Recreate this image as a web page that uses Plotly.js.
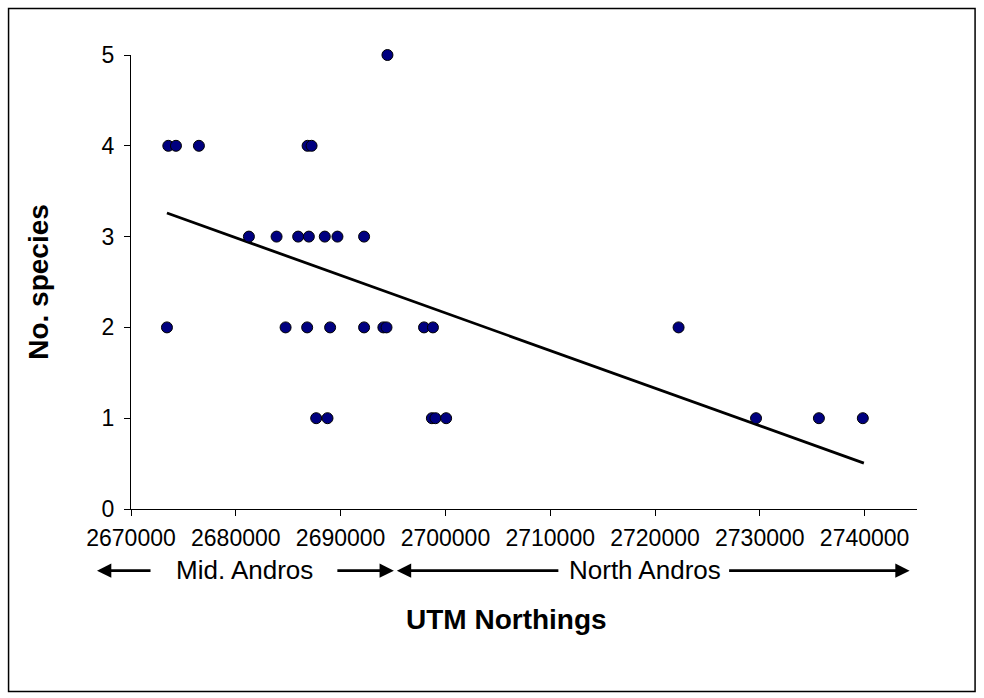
<!DOCTYPE html>
<html>
<head>
<meta charset="utf-8">
<script src="https://cdn.plot.ly/plotly-3.0.1.min.js"></script>
<style>html,body{margin:0;padding:0;background:#fff;}#chart{width:984px;height:698px;}</style>
</head>
<body>
<div id="chart"></div>
<script>
// UTM northings (m) and number of species
const northings = [
  2694470,
  2673560, 2674290, 2676480, 2686850, 2687230,
  2681250, 2683890, 2685950, 2686970, 2688490, 2689700, 2692240,
  2673430, 2684750, 2686810, 2689000, 2692240, 2694080, 2694380, 2697960, 2698810, 2722250,
  2687670, 2688750, 2698710, 2699050, 2700070, 2729640, 2735640, 2739830
];
const species = [
  5,
  4, 4, 4, 4, 4,
  3, 3, 3, 3, 3, 3, 3,
  2, 2, 2, 2, 2, 2, 2, 2, 2, 2,
  1, 1, 1, 1, 1, 1, 1, 1
];
// linear trend line end points
const trendX = [2673430, 2739930];
const trendY = [3.26, 0.505];
// axis tick values
const xTicks = [2670000, 2680000, 2690000, 2700000, 2710000, 2720000, 2730000, 2740000];
const yTicks = [0, 1, 2, 3, 4, 5];
// text
const regionLabels = ["Mid. Andros", "North Andros"];
const xTitle = "UTM Northings";
const yTitle = "No. species";

const FONT = "Liberation Sans, Arial, sans-serif";
const W = 984, H = 698;
const L = 131, R = 917.4, T = 55, B = 509.3;
const px = v => (v - L) / (R - L);
const py = v => (B - v) / (B - T);

const traces = [
  {
    x: trendX, y: trendY, type: "scatter", mode: "lines",
    line: {color: "#000000", width: 2.8}, hoverinfo: "skip", showlegend: false
  },
  {
    x: northings, y: species, type: "scatter", mode: "markers", cliponaxis: false,
    marker: {color: "#000080", size: 11, line: {color: "#000000", width: 1}},
    hoverinfo: "x+y", showlegend: false
  }
];

const arrowY = py(571);
function arrow(tip, tail) {
  return {
    xref: "paper", yref: "paper", x: px(tip), y: arrowY,
    axref: "pixel", ayref: "pixel", ax: tail - tip, ay: 0,
    text: "", showarrow: true, arrowhead: 2, arrowsize: 1.1, arrowwidth: 2.6,
    arrowcolor: "#000000", standoff: 0, startstandoff: 0
  };
}

const layout = {
  width: W, height: H,
  margin: {l: L, r: W - R, t: T, b: H - B, pad: 0},
  paper_bgcolor: "#ffffff", plot_bgcolor: "#ffffff",
  font: {family: FONT, color: "#000000", size: 23},
  xaxis: {
    range: [2670000, 2745000], tickvals: xTicks, ticktext: xTicks.map(String),
    showgrid: false, zeroline: false, showline: true, linecolor: "#000000", linewidth: 1,
    ticks: "outside", ticklen: 6, tickcolor: "#000000", tickwidth: 1,
    tickfont: {family: FONT, size: 23, color: "#000000"}, ticklabelstandoff: 2,
    automargin: false
  },
  yaxis: {
    range: [0, 5], tickvals: yTicks,
    showgrid: false, zeroline: false, showline: true, linecolor: "#000000", linewidth: 1,
    ticks: "outside", ticklen: 6, tickcolor: "#000000", tickwidth: 1,
    tickfont: {family: FONT, size: 23, color: "#000000"}, ticklabelstandoff: 5,
    title: {text: yTitle, font: {family: FONT, size: 28, color: "#000000", weight: "bold"}, standoff: 44},
    automargin: false
  },
  shapes: [
    {type: "rect", xref: "paper", yref: "paper",
     x0: px(8.5), x1: px(975.5), y0: py(692), y1: py(8.5),
     line: {color: "#000000", width: 1.5}, fillcolor: "rgba(0,0,0,0)"}
  ],
  annotations: [
    arrow(97, 152),
    arrow(394, 336),
    arrow(397, 560),
    arrow(910, 728),
    {xref: "paper", yref: "paper", x: px(245), y: py(570), text: regionLabels[0], showarrow: false,
     font: {family: FONT, size: 26, color: "#000000"}, xanchor: "center", yanchor: "middle"},
    {xref: "paper", yref: "paper", x: px(645), y: py(570), text: regionLabels[1], showarrow: false,
     font: {family: FONT, size: 26, color: "#000000"}, xanchor: "center", yanchor: "middle"},
    {xref: "paper", yref: "paper", x: px(507), y: py(620), text: xTitle, showarrow: false,
     font: {family: FONT, size: 28, color: "#000000", weight: "bold"}, xanchor: "center", yanchor: "middle"}
  ]
};

Plotly.newPlot("chart", traces, layout, {displayModeBar: false, staticPlot: true});
</script>
</body>
</html>
